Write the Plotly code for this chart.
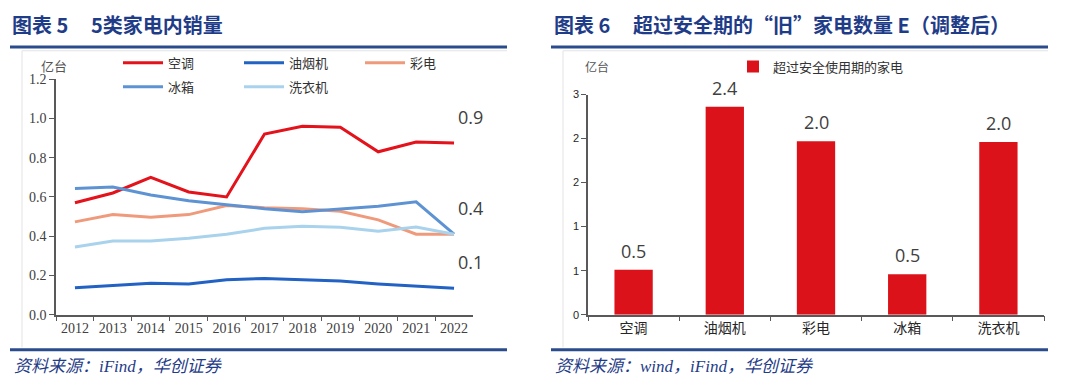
import plotly.graph_objects as go

W, H = 1080, 391

# ---------------- data ----------------
years = ["2012", "2013", "2014", "2015", "2016", "2017", "2018", "2019", "2020", "2021", "2022"]
ac = [0.57, 0.62, 0.70, 0.625, 0.60, 0.92, 0.96, 0.955, 0.83, 0.88, 0.875]
hood = [0.137, 0.15, 0.16, 0.157, 0.178, 0.185, 0.178, 0.172, 0.157, 0.147, 0.135]
tv = [0.473, 0.51, 0.497, 0.51, 0.556, 0.545, 0.54, 0.527, 0.483, 0.41, 0.41]
fridge = [0.643, 0.65, 0.61, 0.58, 0.56, 0.54, 0.525, 0.54, 0.553, 0.575, 0.41]
washer = [0.345, 0.375, 0.375, 0.39, 0.41, 0.44, 0.45, 0.445, 0.425, 0.447, 0.41]

bar_cats = ["空调", "油烟机", "彩电", "冰箱", "洗衣机"]
bar_vals = [0.51, 2.36, 1.97, 0.46, 1.96]
bar_ticks = [0, 0.5, 1.0, 1.5, 2.0, 2.5]
bar_ticktext = ["0", "1", "1", "2", "2", "3"]

line_series = [
    ("空调", ac, "#E3121B", "legend"),
    ("油烟机", hood, "#2162C4", "legend"),
    ("彩电", tv, "#F09A7C", "legend"),
    ("冰箱", fridge, "#5E93D3", "legend2"),
    ("洗衣机", washer, "#A9D3EC", "legend2"),
]

def px(x):
    return x / W

def py(y):
    return 1 - y / H

NAVY = "#1F3C88"
SERIF = "Liberation Serif"
CJK = "Noto Sans CJK SC"
NB = "\u00a0"

fig = go.Figure()

for name, vals, color, lg in line_series:
    fig.add_trace(go.Scatter(
        x=years, y=vals, name=name, mode="lines",
        line=dict(color=color, width=3),
        xaxis="x", yaxis="y", legend=lg, hoverinfo="skip"))

fig.add_trace(go.Bar(
    x=bar_cats, y=bar_vals, name="超过安全使用期的家电",
    marker=dict(color="#DB1219", line=dict(width=0)),
    width=0.42, xaxis="x2", yaxis="y2", legend="legend3",
    hoverinfo="skip"))

annotations = []
# bar value labels
for c, v in zip(bar_cats, bar_vals):
    annotations.append(dict(
        x=c, y=v, xref="x2", yref="y2", text=f"{v:.1f}", showarrow=False,
        yanchor="middle", yshift=19,
        font=dict(family="Open Sans", size=18, color="#404040")))
# end-of-line labels
for vals in (ac, fridge, hood):
    annotations.append(dict(
        x=len(years) - 1, y=vals[-1], xref="x", yref="y",
        text=f"{round(vals[-1], 1):.1f}", showarrow=False,
        xshift=16, yshift=26,
        font=dict(family="Open Sans", size=18, color="#404040")))

# titles
annotations.append(dict(
    x=px(10), y=py(18), xref="paper", yref="paper", xanchor="left", yanchor="middle",
    text="<b>图表" + NB + "5" + NB * 5 + "5类家电内销量</b>", showarrow=False,
    font=dict(family=CJK, size=20, color=NAVY)))
annotations.append(dict(
    x=px(552), y=py(18), xref="paper", yref="paper", xanchor="left", yanchor="middle",
    text="<b>图表" + NB + "6" + NB * 5 + "超过安全期的“旧”家电数量" + NB + "E（调整后）</b>",
    showarrow=False, font=dict(family=CJK, size=20, color=NAVY)))
# sources
annotations.append(dict(
    x=px(12), y=py(374), xref="paper", yref="paper", xanchor="left", yanchor="middle",
    text="<i>资料来源：iFind，华创证券</i>", showarrow=False,
    font=dict(family=SERIF + ", " + CJK, size=17, color=NAVY)))
annotations.append(dict(
    x=px(553), y=py(374), xref="paper", yref="paper", xanchor="left", yanchor="middle",
    text="<i>资料来源：wind，iFind，华创证券</i>", showarrow=False,
    font=dict(family=SERIF + ", " + CJK, size=17, color=NAVY)))
# units
annotations.append(dict(
    x=px(54), y=py(61), xref="paper", yref="paper", xanchor="center", yanchor="middle",
    text="亿台", showarrow=False, font=dict(family=CJK, size=13, color="#555555")))
annotations.append(dict(
    x=px(597), y=py(62), xref="paper", yref="paper", xanchor="center", yanchor="middle",
    text="亿台", showarrow=False, font=dict(family=CJK, size=12, color="#555555")))

shapes = []
# title underlines & bottom rules
for x0, x1 in ((10, 507), (551, 1048)):
    shapes.append(dict(type="line", xref="paper", yref="paper",
                       x0=px(x0), x1=px(x1), y0=py(41.5), y1=py(41.5),
                       line=dict(color="#2B4C8C", width=3)))
    shapes.append(dict(type="line", xref="paper", yref="paper",
                       x0=px(x0), x1=px(x1), y0=py(356.5), y1=py(356.5),
                       line=dict(color="#2B4C8C", width=3)))
# faint frame lines
for xl, x1 in ((22, 507), (563, 1048)):
    shapes.append(dict(type="line", xref="paper", yref="paper",
                       x0=px(xl), x1=px(x1), y0=py(45.5), y1=py(45.5),
                       line=dict(color="#E3E3E3", width=1)))
    shapes.append(dict(type="line", xref="paper", yref="paper",
                       x0=px(xl), x1=px(xl), y0=py(45.5), y1=py(354),
                       line=dict(color="#E3E3E3", width=1)))

axis_common = dict(showgrid=False, zeroline=False, showline=True,
                   linecolor="#595959", linewidth=1.5, ticks="outside",
                   tickcolor="#595959", ticklen=5, tickwidth=1.2)

legend_common = dict(orientation="h", xanchor="left", yanchor="middle",
                     bgcolor="rgba(0,0,0,0)",
                     font=dict(family=CJK, size=13, color="#333333"),
                     itemwidth=40, tracegroupgap=0)

fig.update_layout(
    width=W, height=H,
    margin=dict(l=0, r=0, t=0, b=0),
    paper_bgcolor="white", plot_bgcolor="rgba(0,0,0,0)",
    showlegend=True,
    xaxis=dict(**axis_common, domain=[px(56), px(473)], anchor="y",
               type="category", range=[-0.5, 10.5], tickson="boundaries",
               tickfont=dict(family=SERIF, size=14, color="#404040")),
    yaxis=dict(**axis_common, domain=[py(320), py(75)], anchor="x",
               range=[0, 1.2], tickvals=[0, 0.2, 0.4, 0.6, 0.8, 1.0, 1.2],
               tickformat=".1f",
               tickfont=dict(family=SERIF, size=14, color="#404040")),
    xaxis2=dict(**axis_common, domain=[px(588), px(1044)], anchor="y2",
                type="category", range=[-0.5, 4.5], tickson="boundaries",
                tickfont=dict(family=CJK, size=14, color="#262626")),
    yaxis2=dict(**axis_common, domain=[py(320), py(91)], anchor="x2",
                range=[0, 2.5], tickvals=bar_ticks, ticktext=bar_ticktext,
                tickfont=dict(family="Liberation Sans", size=11, color="#262626")),
    legend=dict(**legend_common, x=px(118), y=py(58),
                entrywidth=66, entrywidthmode="pixels"),
    legend2=dict(**legend_common, x=px(118), y=py(83),
                 entrywidth=66, entrywidthmode="pixels"),
    legend3=dict(orientation="h", x=px(733), y=py(62), xanchor="left", yanchor="middle",
                 bgcolor="rgba(0,0,0,0)", itemwidth=30,
                 font=dict(family=CJK, size=13, color="#333333")),
    annotations=annotations,
    shapes=shapes,
)

fig.write_html("out.html", config={"displayModeBar": False},
               post_script="document.body.style.margin='0';")
